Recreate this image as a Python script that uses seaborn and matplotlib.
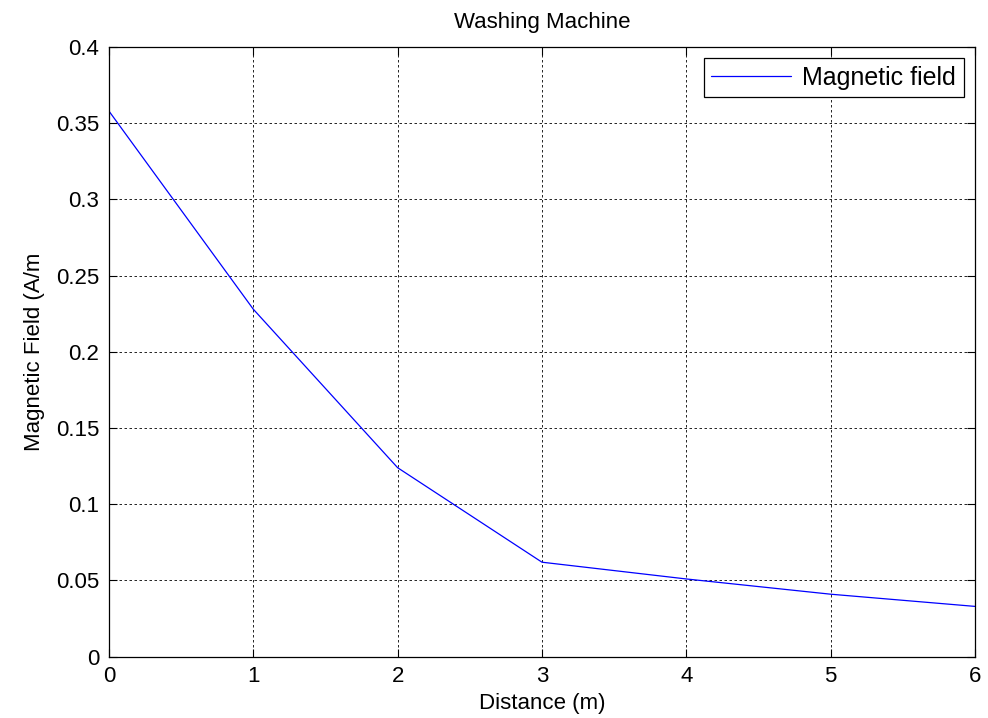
import matplotlib
matplotlib.use("Agg")
import matplotlib.pyplot as plt
import seaborn as sns
import pandas as pd

# Field strength measured at increasing distance from the appliance
distance_m = [0, 1, 2, 3, 4, 5, 6]
field_am = [0.358, 0.228, 0.124, 0.062, 0.051, 0.041, 0.033]
x_ticks = [0, 1, 2, 3, 4, 5, 6]
y_ticks = [0, 0.05, 0.1, 0.15, 0.2, 0.25, 0.3, 0.35, 0.4]
y_tick_labels = ["0", "0.05", "0.1", "0.15", "0.2", "0.25", "0.3", "0.35", "0.4"]

df = pd.DataFrame({"Distance": distance_m, "Field": field_am})

sns.set_style("white")
plt.rcParams["font.family"] = ["Liberation Sans", "DejaVu Sans"]
plt.rcParams["text.color"] = "black"
plt.rcParams["axes.labelcolor"] = "black"
FS = 16

fig = plt.figure(figsize=(9.88, 7.18), dpi=100)
ax = fig.add_axes([0.1103, 0.0854, 0.8765, 0.849])

sns.lineplot(data=df, x="Distance", y="Field", ax=ax, color="#0000ff",
             linewidth=0.9, label="Magnetic field")

ax.set_xlim(0, 6)
ax.set_ylim(0, 0.4)
ax.set_xticks(x_ticks)
ax.set_xticklabels([str(v) for v in x_ticks])
ax.set_yticks(y_ticks)
ax.set_yticklabels(y_tick_labels)

ax.grid(True, color="black", linestyle=(0, (3, 3)), linewidth=0.6)
ax.set_axisbelow(True)
for sp in ax.spines.values():
    sp.set_visible(True)
    sp.set_color("black")
    sp.set_linewidth(0.9)

ax.tick_params(axis="both", which="both", direction="in", length=6, width=0.8,
               top=True, right=True, bottom=True, left=True,
               labelsize=FS, colors="black", pad=7)

ax.set_title("Washing Machine", fontsize=FS, pad=14, color="black")
ax.set_xlabel("Distance (m)", fontsize=FS, labelpad=4, color="black")
ax.set_ylabel("Magnetic Field (A/m", fontsize=FS, labelpad=8, color="black")

leg = ax.legend(loc="upper right", fontsize=18, frameon=True, fancybox=False,
                framealpha=1, edgecolor="black", handlelength=3.2,
                borderaxespad=0.45, borderpad=0.3, handletextpad=0.45)
leg.get_frame().set_linewidth(0.9)
for t in leg.get_texts():
    t.set_color("black")

fig.savefig("out.png", dpi=100)
